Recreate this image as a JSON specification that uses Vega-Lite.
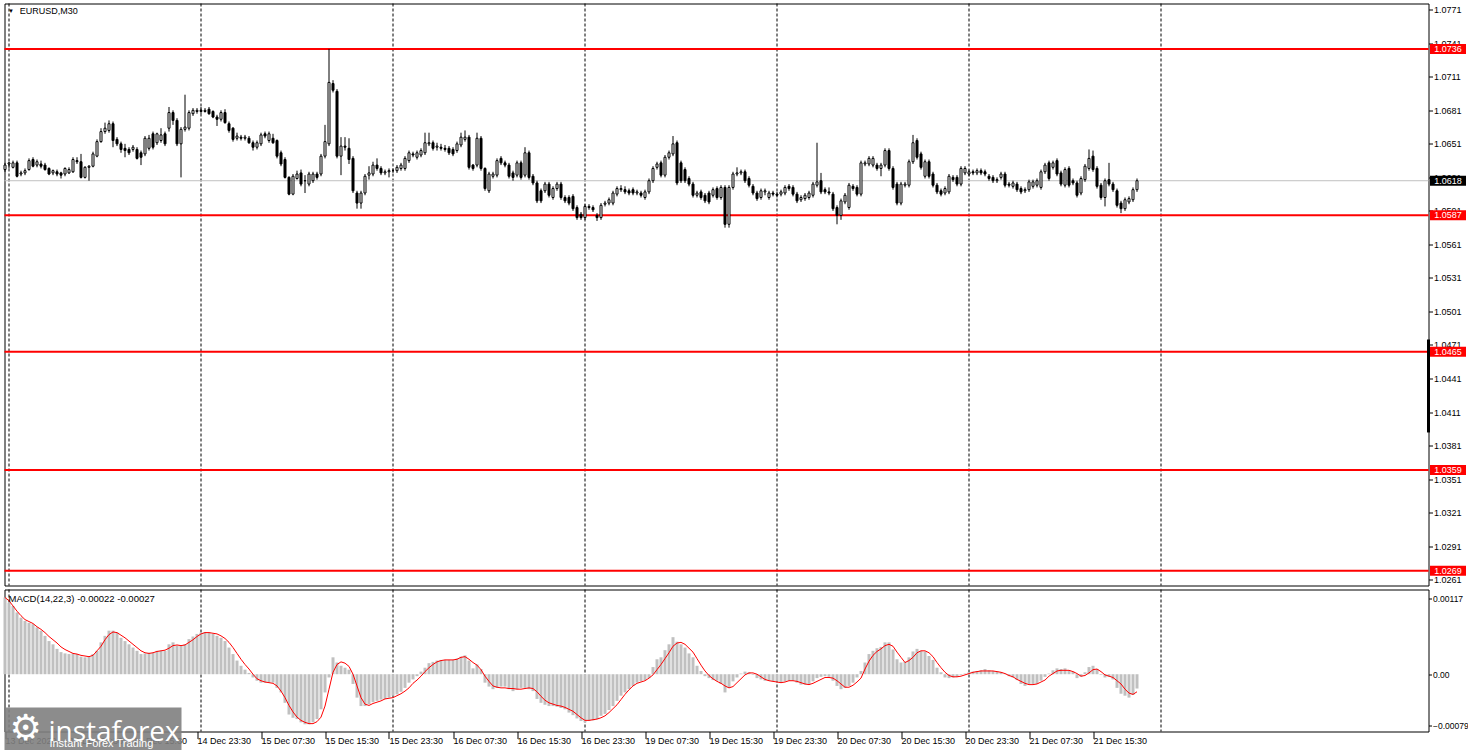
{
"$schema": "https://vega.github.io/schema/vega-lite/v6.json",
"padding": {"left": 2.5, "top": 2.5, "right": 0, "bottom": 0},
"background": "white",
"spacing": 2,
"config": {
  "view": {"stroke": "black", "strokeWidth": 1},
  "axis": {"labelFont": "Liberation Sans", "labelFontSize": 9, "labelColor": "black", "tickColor": "black", "domain": false, "grid": false, "title": null, "labelOverlap": false},
  "text": {"font": "Liberation Sans"}
},
"datasets": {
  "lv": [{"p": 1.0736}, {"p": 1.0587}, {"p": 1.0465}, {"p": 1.0359}, {"p": 1.0269}],
  "cur": [{"p": 1.0618}],
  "vl": [{"t": 1}, {"t": 49}, {"t": 97}, {"t": 145}, {"t": 193}, {"t": 241}, {"t": 289}],
  "one": [{}],
  "d": [
{"i":0,"o":1.0628,"h":1.0634,"l":1.0626,"c":1.0632,"m":0.00118,"s":0.00118},
{"i":1,"o":1.0633,"h":1.0635,"l":1.0629,"c":1.0634,"m":0.00110,"s":0.00113},
{"i":2,"o":1.0630,"h":1.0636,"l":1.0629,"c":1.0634,"m":0.00105,"s":0.00105},
{"i":3,"o":1.0634,"h":1.0636,"l":1.0621,"c":1.0622,"m":0.00095,"s":0.00097},
{"i":4,"o":1.0624,"h":1.0627,"l":1.0622,"c":1.0625,"m":0.00087,"s":0.00090},
{"i":5,"o":1.0625,"h":1.0629,"l":1.0623,"c":1.0627,"m":0.00082,"s":0.00084},
{"i":6,"o":1.0628,"h":1.0638,"l":1.0627,"c":1.0636,"m":0.00079,"s":0.00081},
{"i":7,"o":1.0637,"h":1.0639,"l":1.0630,"c":1.0631,"m":0.00077,"s":0.00078},
{"i":8,"o":1.0632,"h":1.0637,"l":1.0630,"c":1.0635,"m":0.00072,"s":0.00073},
{"i":9,"o":1.0633,"h":1.0636,"l":1.0629,"c":1.0631,"m":0.00067,"s":0.00069},
{"i":10,"o":1.0632,"h":1.0634,"l":1.0627,"c":1.0628,"m":0.00059,"s":0.00064},
{"i":11,"o":1.0629,"h":1.0630,"l":1.0623,"c":1.0624,"m":0.00051,"s":0.00058},
{"i":12,"o":1.0625,"h":1.0628,"l":1.0623,"c":1.0627,"m":0.00046,"s":0.00053},
{"i":13,"o":1.0626,"h":1.0628,"l":1.0622,"c":1.0624,"m":0.00039,"s":0.00048},
{"i":14,"o":1.0625,"h":1.0626,"l":1.0620,"c":1.0623,"m":0.00034,"s":0.00042},
{"i":15,"o":1.0624,"h":1.0630,"l":1.0622,"c":1.0629,"m":0.00032,"s":0.00038},
{"i":16,"o":1.0625,"h":1.0630,"l":1.0624,"c":1.0628,"m":0.00031,"s":0.00035},
{"i":17,"o":1.0626,"h":1.0639,"l":1.0625,"c":1.0637,"m":0.00032,"s":0.00032},
{"i":18,"o":1.0636,"h":1.0639,"l":1.0633,"c":1.0635,"m":0.00031,"s":0.00031},
{"i":19,"o":1.0635,"h":1.0642,"l":1.0620,"c":1.0621,"m":0.00027,"s":0.00029},
{"i":20,"o":1.0621,"h":1.0631,"l":1.0620,"c":1.0630,"m":0.00026,"s":0.00028},
{"i":21,"o":1.0630,"h":1.0632,"l":1.0618,"c":1.0631,"m":0.00027,"s":0.00027},
{"i":22,"o":1.0631,"h":1.0644,"l":1.0630,"c":1.0642,"m":0.00031,"s":0.00029},
{"i":23,"o":1.0640,"h":1.0655,"l":1.0639,"c":1.0653,"m":0.00036,"s":0.00036},
{"i":24,"o":1.0653,"h":1.0665,"l":1.0652,"c":1.0662,"m":0.00049,"s":0.00043},
{"i":25,"o":1.0662,"h":1.0670,"l":1.0660,"c":1.0665,"m":0.00059,"s":0.00053},
{"i":26,"o":1.0663,"h":1.0672,"l":1.0661,"c":1.0669,"m":0.00067,"s":0.00061},
{"i":27,"o":1.0669,"h":1.0671,"l":1.0648,"c":1.0654,"m":0.00067,"s":0.00065},
{"i":28,"o":1.0655,"h":1.0657,"l":1.0649,"c":1.0651,"m":0.00064,"s":0.00064},
{"i":29,"o":1.0651,"h":1.0653,"l":1.0643,"c":1.0646,"m":0.00056,"s":0.00060},
{"i":30,"o":1.0647,"h":1.0651,"l":1.0639,"c":1.0645,"m":0.00051,"s":0.00056},
{"i":31,"o":1.0646,"h":1.0648,"l":1.0641,"c":1.0643,"m":0.00046,"s":0.00051},
{"i":32,"o":1.0646,"h":1.0650,"l":1.0644,"c":1.0648,"m":0.00041,"s":0.00046},
{"i":33,"o":1.0646,"h":1.0648,"l":1.0637,"c":1.0638,"m":0.00036,"s":0.00041},
{"i":34,"o":1.0643,"h":1.0645,"l":1.0632,"c":1.0639,"m":0.00031,"s":0.00036},
{"i":35,"o":1.0642,"h":1.0658,"l":1.0640,"c":1.0656,"m":0.00032,"s":0.00033},
{"i":36,"o":1.0647,"h":1.0659,"l":1.0645,"c":1.0656,"m":0.00033,"s":0.00032},
{"i":37,"o":1.0660,"h":1.0662,"l":1.0646,"c":1.0648,"m":0.00033,"s":0.00033},
{"i":38,"o":1.0652,"h":1.0661,"l":1.0650,"c":1.0660,"m":0.00036,"s":0.00035},
{"i":39,"o":1.0654,"h":1.0665,"l":1.0652,"c":1.0659,"m":0.00036,"s":0.00036},
{"i":40,"o":1.0660,"h":1.0662,"l":1.0649,"c":1.0651,"m":0.00036,"s":0.00037},
{"i":41,"o":1.0665,"h":1.0684,"l":1.0662,"c":1.0679,"m":0.00046,"s":0.00040},
{"i":42,"o":1.0679,"h":1.0681,"l":1.0668,"c":1.0672,"m":0.00049,"s":0.00044},
{"i":43,"o":1.0672,"h":1.0674,"l":1.0649,"c":1.0651,"m":0.00044,"s":0.00045},
{"i":44,"o":1.0651,"h":1.0666,"l":1.0621,"c":1.0664,"m":0.00044,"s":0.00044},
{"i":45,"o":1.0664,"h":1.0695,"l":1.0662,"c":1.0666,"m":0.00046,"s":0.00045},
{"i":46,"o":1.0665,"h":1.0681,"l":1.0663,"c":1.0679,"m":0.00054,"s":0.00049},
{"i":47,"o":1.0678,"h":1.0683,"l":1.0676,"c":1.0681,"m":0.00058,"s":0.00053},
{"i":48,"o":1.0680,"h":1.0683,"l":1.0678,"c":1.0681,"m":0.00062,"s":0.00058},
{"i":49,"o":1.0681,"h":1.0684,"l":1.0678,"c":1.0680,"m":0.00064,"s":0.00062},
{"i":50,"o":1.0680,"h":1.0683,"l":1.0679,"c":1.0681,"m":0.00065,"s":0.00064},
{"i":51,"o":1.0682,"h":1.0684,"l":1.0677,"c":1.0678,"m":0.00064,"s":0.00064},
{"i":52,"o":1.0680,"h":1.0681,"l":1.0674,"c":1.0675,"m":0.00062,"s":0.00063},
{"i":53,"o":1.0675,"h":1.0677,"l":1.0667,"c":1.0673,"m":0.00059,"s":0.00062},
{"i":54,"o":1.0673,"h":1.0681,"l":1.0671,"c":1.0679,"m":0.00056,"s":0.00059},
{"i":55,"o":1.0679,"h":1.0682,"l":1.0669,"c":1.0670,"m":0.00051,"s":0.00055},
{"i":56,"o":1.0669,"h":1.0671,"l":1.0661,"c":1.0663,"m":0.00041,"s":0.00049},
{"i":57,"o":1.0665,"h":1.0666,"l":1.0653,"c":1.0655,"m":0.00031,"s":0.00041},
{"i":58,"o":1.0656,"h":1.0661,"l":1.0654,"c":1.0658,"m":0.00021,"s":0.00032},
{"i":59,"o":1.0657,"h":1.0659,"l":1.0654,"c":1.0656,"m":0.00013,"s":0.00023},
{"i":60,"o":1.0656,"h":1.0659,"l":1.0654,"c":1.0657,"m":0.00007,"s":0.00015},
{"i":61,"o":1.0656,"h":1.0658,"l":1.0651,"c":1.0652,"m":0.00002,"s":0.00008},
{"i":62,"o":1.0652,"h":1.0654,"l":1.0645,"c":1.0648,"m":-0.00005,"s":0},
{"i":63,"o":1.0648,"h":1.0654,"l":1.0646,"c":1.0652,"m":-0.00010,"s":-0.00007},
{"i":64,"o":1.0651,"h":1.0661,"l":1.0649,"c":1.0659,"m":-0.00013,"s":-0.00010},
{"i":65,"o":1.0660,"h":1.0662,"l":1.0656,"c":1.0658,"m":-0.00013,"s":-0.00012},
{"i":66,"o":1.0654,"h":1.0662,"l":1.0652,"c":1.0660,"m":-0.00013,"s":-0.00013},
{"i":67,"o":1.0656,"h":1.0660,"l":1.0651,"c":1.0652,"m":-0.00013,"s":-0.00014},
{"i":68,"o":1.0654,"h":1.0655,"l":1.0638,"c":1.0640,"m":-0.00021,"s":-0.00018},
{"i":69,"o":1.0643,"h":1.0645,"l":1.0631,"c":1.0633,"m":-0.00028,"s":-0.00026},
{"i":70,"o":1.0637,"h":1.0639,"l":1.0620,"c":1.0621,"m":-0.00044,"s":-0.00036},
{"i":71,"o":1.0621,"h":1.0622,"l":1.0605,"c":1.0606,"m":-0.00062,"s":-0.00048},
{"i":72,"o":1.0606,"h":1.0624,"l":1.0605,"c":1.0622,"m":-0.00067,"s":-0.00058},
{"i":73,"o":1.0620,"h":1.0627,"l":1.0619,"c":1.0624,"m":-0.00069,"s":-0.00066},
{"i":74,"o":1.0625,"h":1.0628,"l":1.0613,"c":1.0615,"m":-0.00074,"s":-0.00071},
{"i":75,"o":1.0618,"h":1.0623,"l":1.0607,"c":1.0618,"m":-0.00077,"s":-0.00074},
{"i":76,"o":1.0615,"h":1.0626,"l":1.0613,"c":1.0624,"m":-0.00077,"s":-0.00076},
{"i":77,"o":1.0618,"h":1.0626,"l":1.0616,"c":1.0624,"m":-0.00074,"s":-0.00076},
{"i":78,"o":1.0624,"h":1.0626,"l":1.0619,"c":1.0621,"m":-0.00069,"s":-0.00073},
{"i":79,"o":1.0624,"h":1.0642,"l":1.0622,"c":1.0640,"m":-0.00054,"s":-0.00066},
{"i":80,"o":1.0640,"h":1.0668,"l":1.0638,"c":1.0653,"m":-0.00028,"s":-0.00049},
{"i":81,"o":1.0651,"h":1.0736,"l":1.0649,"c":1.0706,"m":-0.00005,"s":-0.00023},
{"i":82,"o":1.0705,"h":1.0708,"l":1.0697,"c":1.0699,"m":0.00026,"s":0.00003},
{"i":83,"o":1.0698,"h":1.0700,"l":1.0638,"c":1.0640,"m":0.00018,"s":0.00015},
{"i":84,"o":1.0640,"h":1.0657,"l":1.0623,"c":1.0649,"m":0.00013,"s":0.00019},
{"i":85,"o":1.0649,"h":1.0657,"l":1.0645,"c":1.0648,"m":0.00010,"s":0.00017},
{"i":86,"o":1.0647,"h":1.0656,"l":1.0633,"c":1.0637,"m":0.00007,"s":0.00012},
{"i":87,"o":1.0638,"h":1.0640,"l":1.0607,"c":1.0609,"m":-0.00015,"s":0},
{"i":88,"o":1.0607,"h":1.0609,"l":1.0593,"c":1.0598,"m":-0.00036,"s":-0.00018},
{"i":89,"o":1.0598,"h":1.0609,"l":1.0593,"c":1.0607,"m":-0.00049,"s":-0.00036},
{"i":90,"o":1.0607,"h":1.0624,"l":1.0605,"c":1.0622,"m":-0.00049,"s":-0.00046},
{"i":91,"o":1.0623,"h":1.0631,"l":1.0619,"c":1.0625,"m":-0.00046,"s":-0.00048},
{"i":92,"o":1.0624,"h":1.0635,"l":1.0622,"c":1.0632,"m":-0.00043,"s":-0.00045},
{"i":93,"o":1.0632,"h":1.0638,"l":1.0627,"c":1.0629,"m":-0.00041,"s":-0.00043},
{"i":94,"o":1.0629,"h":1.0631,"l":1.0623,"c":1.0625,"m":-0.00039,"s":-0.00041},
{"i":95,"o":1.0625,"h":1.0628,"l":1.0623,"c":1.0626,"m":-0.00038,"s":-0.00038},
{"i":96,"o":1.0626,"h":1.0629,"l":1.0621,"c":1.0627,"m":-0.00036,"s":-0.00037},
{"i":97,"o":1.0627,"h":1.0629,"l":1.0625,"c":1.0627,"m":-0.00033,"s":-0.00036},
{"i":98,"o":1.0627,"h":1.0632,"l":1.0625,"c":1.0630,"m":-0.00031,"s":-0.00033},
{"i":99,"o":1.0629,"h":1.0634,"l":1.0627,"c":1.0632,"m":-0.00027,"s":-0.00030},
{"i":100,"o":1.0629,"h":1.0640,"l":1.0627,"c":1.0638,"m":-0.00021,"s":-0.00026},
{"i":101,"o":1.0636,"h":1.0645,"l":1.0634,"c":1.0643,"m":-0.00013,"s":-0.00021},
{"i":102,"o":1.0642,"h":1.0644,"l":1.0639,"c":1.0641,"m":-0.00008,"s":-0.00014},
{"i":103,"o":1.0639,"h":1.0645,"l":1.0637,"c":1.0643,"m":-0.00003,"s":-0.00009},
{"i":104,"o":1.0641,"h":1.0647,"l":1.0639,"c":1.0645,"m":0.00004,"s":-0.00003},
{"i":105,"o":1.0643,"h":1.0661,"l":1.0641,"c":1.0652,"m":0.00010,"s":0.00004},
{"i":106,"o":1.0651,"h":1.0661,"l":1.0649,"c":1.0652,"m":0.00017,"s":0.00010},
{"i":107,"o":1.0652,"h":1.0654,"l":1.0645,"c":1.0647,"m":0.00019,"s":0.00015},
{"i":108,"o":1.0648,"h":1.0652,"l":1.0645,"c":1.0649,"m":0.00021,"s":0.00019},
{"i":109,"o":1.0648,"h":1.0651,"l":1.0645,"c":1.0647,"m":0.00022,"s":0.00021},
{"i":110,"o":1.0647,"h":1.0650,"l":1.0644,"c":1.0646,"m":0.00022,"s":0.00022},
{"i":111,"o":1.0647,"h":1.0649,"l":1.0641,"c":1.0643,"m":0.00022,"s":0.00022},
{"i":112,"o":1.0646,"h":1.0648,"l":1.0640,"c":1.0642,"m":0.00022,"s":0.00022},
{"i":113,"o":1.0645,"h":1.0653,"l":1.0643,"c":1.0651,"m":0.00024,"s":0.00023},
{"i":114,"o":1.0650,"h":1.0661,"l":1.0648,"c":1.0657,"m":0.00027,"s":0.00026},
{"i":115,"o":1.0655,"h":1.0663,"l":1.0653,"c":1.0657,"m":0.00029,"s":0.00027},
{"i":116,"o":1.0657,"h":1.0659,"l":1.0628,"c":1.0630,"m":0.00021,"s":0.00023},
{"i":117,"o":1.0632,"h":1.0633,"l":1.0627,"c":1.0629,"m":0.00009,"s":0.00018},
{"i":118,"o":1.0632,"h":1.0661,"l":1.0630,"c":1.0656,"m":0.00015,"s":0.00014},
{"i":119,"o":1.0656,"h":1.0658,"l":1.0627,"c":1.0629,"m":0.00008,"s":0.00007},
{"i":120,"o":1.0629,"h":1.0630,"l":1.0609,"c":1.0611,"m":-0.00013,"s":-0.00003},
{"i":121,"o":1.0609,"h":1.0626,"l":1.0607,"c":1.0624,"m":-0.00019,"s":-0.00011},
{"i":122,"o":1.0622,"h":1.0626,"l":1.0620,"c":1.0624,"m":-0.00023,"s":-0.00018},
{"i":123,"o":1.0623,"h":1.0638,"l":1.0621,"c":1.0636,"m":-0.00021,"s":-0.00020},
{"i":124,"o":1.0638,"h":1.0640,"l":1.0632,"c":1.0634,"m":-0.00019,"s":-0.00021},
{"i":125,"o":1.0634,"h":1.0636,"l":1.0630,"c":1.0632,"m":-0.00019,"s":-0.00021},
{"i":126,"o":1.0632,"h":1.0634,"l":1.0620,"c":1.0622,"m":-0.00023,"s":-0.00022},
{"i":127,"o":1.0625,"h":1.0627,"l":1.0618,"c":1.0621,"m":-0.00026,"s":-0.00022},
{"i":128,"o":1.0623,"h":1.0636,"l":1.0621,"c":1.0634,"m":-0.00023,"s":-0.00023},
{"i":129,"o":1.0634,"h":1.0636,"l":1.0619,"c":1.0621,"m":-0.00021,"s":-0.00023},
{"i":130,"o":1.0623,"h":1.0648,"l":1.0621,"c":1.0643,"m":-0.00021,"s":-0.00022},
{"i":131,"o":1.0643,"h":1.0645,"l":1.0619,"c":1.0621,"m":-0.00023,"s":-0.00021},
{"i":132,"o":1.0622,"h":1.0624,"l":1.0614,"c":1.0616,"m":-0.00026,"s":-0.00022},
{"i":133,"o":1.0616,"h":1.0618,"l":1.0598,"c":1.0600,"m":-0.00038,"s":-0.00027},
{"i":134,"o":1.0609,"h":1.0611,"l":1.0598,"c":1.0600,"m":-0.00044,"s":-0.00034},
{"i":135,"o":1.0609,"h":1.0617,"l":1.0607,"c":1.0615,"m":-0.00047,"s":-0.00040},
{"i":136,"o":1.0615,"h":1.0617,"l":1.0603,"c":1.0605,"m":-0.00049,"s":-0.00044},
{"i":137,"o":1.0603,"h":1.0613,"l":1.0601,"c":1.0611,"m":-0.00049,"s":-0.00046},
{"i":138,"o":1.0611,"h":1.0617,"l":1.0609,"c":1.0615,"m":-0.00050,"s":-0.00048},
{"i":139,"o":1.0615,"h":1.0617,"l":1.0601,"c":1.0603,"m":-0.00052,"s":-0.00049},
{"i":140,"o":1.0603,"h":1.0605,"l":1.0598,"c":1.0600,"m":-0.00054,"s":-0.00051},
{"i":141,"o":1.0603,"h":1.0605,"l":1.0596,"c":1.0598,"m":-0.00059,"s":-0.00054},
{"i":142,"o":1.0604,"h":1.0606,"l":1.0591,"c":1.0593,"m":-0.00063,"s":-0.00057},
{"i":143,"o":1.0594,"h":1.0596,"l":1.0583,"c":1.0585,"m":-0.00068,"s":-0.00062},
{"i":144,"o":1.0588,"h":1.0590,"l":1.0583,"c":1.0585,"m":-0.00072,"s":-0.00067},
{"i":145,"o":1.0585,"h":1.0597,"l":1.0583,"c":1.0595,"m":-0.00074,"s":-0.00071},
{"i":146,"o":1.0594,"h":1.0597,"l":1.0592,"c":1.0595,"m":-0.00072,"s":-0.00071},
{"i":147,"o":1.0594,"h":1.0596,"l":1.0590,"c":1.0592,"m":-0.00071,"s":-0.00070},
{"i":148,"o":1.0587,"h":1.0589,"l":1.0582,"c":1.0585,"m":-0.00069,"s":-0.00069},
{"i":149,"o":1.0585,"h":1.0598,"l":1.0583,"c":1.0596,"m":-0.00064,"s":-0.00067},
{"i":150,"o":1.0597,"h":1.0600,"l":1.0595,"c":1.0598,"m":-0.00061,"s":-0.00064},
{"i":151,"o":1.0598,"h":1.0603,"l":1.0596,"c":1.0601,"m":-0.00055,"s":-0.00059},
{"i":152,"o":1.0598,"h":1.0609,"l":1.0596,"c":1.0607,"m":-0.00049,"s":-0.00053},
{"i":153,"o":1.0606,"h":1.0613,"l":1.0604,"c":1.0611,"m":-0.00041,"s":-0.00047},
{"i":154,"o":1.0610,"h":1.0614,"l":1.0608,"c":1.0611,"m":-0.00033,"s":-0.00039},
{"i":155,"o":1.0610,"h":1.0613,"l":1.0606,"c":1.0608,"m":-0.00028,"s":-0.00031},
{"i":156,"o":1.0609,"h":1.0611,"l":1.0605,"c":1.0607,"m":-0.00023,"s":-0.00024},
{"i":157,"o":1.0610,"h":1.0612,"l":1.0605,"c":1.0607,"m":-0.00018,"s":-0.00018},
{"i":158,"o":1.0607,"h":1.0610,"l":1.0605,"c":1.0608,"m":-0.00013,"s":-0.00014},
{"i":159,"o":1.0607,"h":1.0609,"l":1.0603,"c":1.0605,"m":-0.00011,"s":-0.00012},
{"i":160,"o":1.0603,"h":1.0610,"l":1.0601,"c":1.0608,"m":-0.00009,"s":-0.00010},
{"i":161,"o":1.0608,"h":1.0620,"l":1.0606,"c":1.0618,"m":-0.00006,"s":-0.00006},
{"i":162,"o":1.0618,"h":1.0631,"l":1.0616,"c":1.0629,"m":0.00011,"s":-0.00001},
{"i":163,"o":1.0630,"h":1.0635,"l":1.0628,"c":1.0633,"m":0.00023,"s":0.00007},
{"i":164,"o":1.0634,"h":1.0636,"l":1.0621,"c":1.0623,"m":0.00026,"s":0.00015},
{"i":165,"o":1.0623,"h":1.0641,"l":1.0621,"c":1.0639,"m":0.00037,"s":0.00024},
{"i":166,"o":1.0639,"h":1.0645,"l":1.0637,"c":1.0643,"m":0.00046,"s":0.00033},
{"i":167,"o":1.0642,"h":1.0658,"l":1.0640,"c":1.0651,"m":0.00057,"s":0.00043},
{"i":168,"o":1.0652,"h":1.0654,"l":1.0614,"c":1.0616,"m":0.00050,"s":0.00048},
{"i":169,"o":1.0634,"h":1.0636,"l":1.0616,"c":1.0618,"m":0.00046,"s":0.00049},
{"i":170,"o":1.0628,"h":1.0630,"l":1.0616,"c":1.0618,"m":0.00041,"s":0.00046},
{"i":171,"o":1.0620,"h":1.0622,"l":1.0613,"c":1.0615,"m":0.00032,"s":0.00040},
{"i":172,"o":1.0615,"h":1.0617,"l":1.0603,"c":1.0605,"m":0.00026,"s":0.00034},
{"i":173,"o":1.0605,"h":1.0609,"l":1.0603,"c":1.0607,"m":0.00013,"s":0.00024},
{"i":174,"o":1.0608,"h":1.0610,"l":1.0601,"c":1.0603,"m":0.00005,"s":0.00014},
{"i":175,"o":1.0605,"h":1.0607,"l":1.0598,"c":1.0600,"m":-0.00003,"s":0.00005},
{"i":176,"o":1.0607,"h":1.0609,"l":1.0597,"c":1.0599,"m":-0.00006,"s":-0.00002},
{"i":177,"o":1.0605,"h":1.0612,"l":1.0603,"c":1.0610,"m":-0.00009,"s":-0.00007},
{"i":178,"o":1.0611,"h":1.0613,"l":1.0601,"c":1.0603,"m":-0.00010,"s":-0.00011},
{"i":179,"o":1.0603,"h":1.0614,"l":1.0601,"c":1.0612,"m":-0.00015,"s":-0.00014},
{"i":180,"o":1.0612,"h":1.0614,"l":1.0576,"c":1.0579,"m":-0.00028,"s":-0.00018},
{"i":181,"o":1.0579,"h":1.0614,"l":1.0576,"c":1.0612,"m":-0.00021,"s":-0.00021},
{"i":182,"o":1.0612,"h":1.0626,"l":1.0610,"c":1.0624,"m":-0.00011,"s":-0.00019},
{"i":183,"o":1.0624,"h":1.0630,"l":1.0622,"c":1.0625,"m":-0.00005,"s":-0.00013},
{"i":184,"o":1.0625,"h":1.0628,"l":1.0623,"c":1.0626,"m":0.00001,"s":-0.00007},
{"i":185,"o":1.0626,"h":1.0628,"l":1.0616,"c":1.0618,"m":0.00004,"s":-0.00001},
{"i":186,"o":1.0620,"h":1.0622,"l":1.0612,"c":1.0614,"m":0.00003,"s":0.00002},
{"i":187,"o":1.0613,"h":1.0615,"l":1.0605,"c":1.0607,"m":-0.00001,"s":0.00002},
{"i":188,"o":1.0607,"h":1.0609,"l":1.0600,"c":1.0602,"m":-0.00006,"s":0},
{"i":189,"o":1.0603,"h":1.0611,"l":1.0601,"c":1.0609,"m":-0.00008,"s":-0.00004},
{"i":190,"o":1.0608,"h":1.0611,"l":1.0605,"c":1.0609,"m":-0.00010,"s":-0.00008},
{"i":191,"o":1.0603,"h":1.0609,"l":1.0601,"c":1.0607,"m":-0.00010,"s":-0.00010},
{"i":192,"o":1.0607,"h":1.0609,"l":1.0604,"c":1.0606,"m":-0.00011,"s":-0.00011},
{"i":193,"o":1.0606,"h":1.0608,"l":1.0603,"c":1.0605,"m":-0.00011,"s":-0.00012},
{"i":194,"o":1.0606,"h":1.0610,"l":1.0604,"c":1.0608,"m":-0.00013,"s":-0.00013},
{"i":195,"o":1.0607,"h":1.0614,"l":1.0605,"c":1.0612,"m":-0.00011,"s":-0.00012},
{"i":196,"o":1.0613,"h":1.0615,"l":1.0609,"c":1.0611,"m":-0.00010,"s":-0.00010},
{"i":197,"o":1.0612,"h":1.0614,"l":1.0604,"c":1.0606,"m":-0.00010,"s":-0.00010},
{"i":198,"o":1.0606,"h":1.0608,"l":1.0598,"c":1.0600,"m":-0.00013,"s":-0.00011},
{"i":199,"o":1.0601,"h":1.0605,"l":1.0599,"c":1.0603,"m":-0.00016,"s":-0.00013},
{"i":200,"o":1.0602,"h":1.0607,"l":1.0600,"c":1.0605,"m":-0.00016,"s":-0.00015},
{"i":201,"o":1.0603,"h":1.0609,"l":1.0601,"c":1.0607,"m":-0.00015,"s":-0.00016},
{"i":202,"o":1.0605,"h":1.0617,"l":1.0603,"c":1.0615,"m":-0.00011,"s":-0.00014},
{"i":203,"o":1.0614,"h":1.0652,"l":1.0612,"c":1.0617,"m":-0.00006,"s":-0.00011},
{"i":204,"o":1.0618,"h":1.0625,"l":1.0606,"c":1.0608,"m":-0.00004,"s":-0.00008},
{"i":205,"o":1.0610,"h":1.0612,"l":1.0606,"c":1.0608,"m":-0.00003,"s":-0.00005},
{"i":206,"o":1.0608,"h":1.0612,"l":1.0605,"c":1.0607,"m":-0.00004,"s":-0.00005},
{"i":207,"o":1.0606,"h":1.0608,"l":1.0591,"c":1.0593,"m":-0.00010,"s":-0.00006},
{"i":208,"o":1.0594,"h":1.0596,"l":1.0579,"c":1.0587,"m":-0.00018,"s":-0.00010},
{"i":209,"o":1.0587,"h":1.0602,"l":1.0583,"c":1.0600,"m":-0.00023,"s":-0.00015},
{"i":210,"o":1.0599,"h":1.0607,"l":1.0597,"c":1.0605,"m":-0.00021,"s":-0.00020},
{"i":211,"o":1.0594,"h":1.0616,"l":1.0592,"c":1.0614,"m":-0.00018,"s":-0.00020},
{"i":212,"o":1.0613,"h":1.0615,"l":1.0609,"c":1.0611,"m":-0.00013,"s":-0.00017},
{"i":213,"o":1.0612,"h":1.0614,"l":1.0604,"c":1.0606,"m":-0.00005,"s":-0.00012},
{"i":214,"o":1.0606,"h":1.0636,"l":1.0604,"c":1.0634,"m":0.00005,"s":-0.00006},
{"i":215,"o":1.0633,"h":1.0636,"l":1.0631,"c":1.0634,"m":0.00018,"s":0.00008},
{"i":216,"o":1.0633,"h":1.0640,"l":1.0631,"c":1.0638,"m":0.00031,"s":0.00020},
{"i":217,"o":1.0632,"h":1.0640,"l":1.0630,"c":1.0638,"m":0.00036,"s":0.00029},
{"i":218,"o":1.0632,"h":1.0634,"l":1.0627,"c":1.0629,"m":0.00040,"s":0.00035},
{"i":219,"o":1.0629,"h":1.0634,"l":1.0622,"c":1.0632,"m":0.00042,"s":0.00039},
{"i":220,"o":1.0632,"h":1.0647,"l":1.0630,"c":1.0645,"m":0.00049,"s":0.00044},
{"i":221,"o":1.0645,"h":1.0647,"l":1.0627,"c":1.0629,"m":0.00049,"s":0.00046},
{"i":222,"o":1.0629,"h":1.0631,"l":1.0610,"c":1.0612,"m":0.00038,"s":0.00043},
{"i":223,"o":1.0615,"h":1.0617,"l":1.0596,"c":1.0598,"m":0.00023,"s":0.00034},
{"i":224,"o":1.0598,"h":1.0617,"l":1.0596,"c":1.0615,"m":0.00018,"s":0.00026},
{"i":225,"o":1.0614,"h":1.0617,"l":1.0612,"c":1.0615,"m":0.00019,"s":0.00018},
{"i":226,"o":1.0614,"h":1.0637,"l":1.0612,"c":1.0635,"m":0.00026,"s":0.00021},
{"i":227,"o":1.0635,"h":1.0659,"l":1.0633,"c":1.0652,"m":0.00035,"s":0.00026},
{"i":228,"o":1.0654,"h":1.0656,"l":1.0637,"c":1.0639,"m":0.00039,"s":0.00033},
{"i":229,"o":1.0642,"h":1.0644,"l":1.0628,"c":1.0630,"m":0.00036,"s":0.00036},
{"i":230,"o":1.0622,"h":1.0637,"l":1.0620,"c":1.0635,"m":0.00035,"s":0.00036},
{"i":231,"o":1.0635,"h":1.0637,"l":1.0620,"c":1.0622,"m":0.00028,"s":0.00033},
{"i":232,"o":1.0624,"h":1.0626,"l":1.0612,"c":1.0614,"m":0.00022,"s":0.00027},
{"i":233,"o":1.0614,"h":1.0616,"l":1.0606,"c":1.0608,"m":0.00010,"s":0.00018},
{"i":234,"o":1.0609,"h":1.0611,"l":1.0604,"c":1.0606,"m":0.00003,"s":0.00010},
{"i":235,"o":1.0607,"h":1.0613,"l":1.0605,"c":1.0611,"m":-0.00005,"s":0.00003},
{"i":236,"o":1.0608,"h":1.0624,"l":1.0606,"c":1.0622,"m":-0.00006,"s":-0.00002},
{"i":237,"o":1.0621,"h":1.0623,"l":1.0617,"c":1.0619,"m":-0.00005,"s":-0.00004},
{"i":238,"o":1.0621,"h":1.0623,"l":1.0613,"c":1.0615,"m":-0.00004,"s":-0.00004},
{"i":239,"o":1.0615,"h":1.0631,"l":1.0613,"c":1.0629,"m":-0.00001,"s":-0.00003},
{"i":240,"o":1.0625,"h":1.0631,"l":1.0623,"c":1.0629,"m":0.00001,"s":-0.00001},
{"i":241,"o":1.0624,"h":1.0628,"l":1.0622,"c":1.0626,"m":0.00003,"s":0.00001},
{"i":242,"o":1.0626,"h":1.0628,"l":1.0623,"c":1.0625,"m":0.00004,"s":0.00003},
{"i":243,"o":1.0625,"h":1.0629,"l":1.0623,"c":1.0627,"m":0.00005,"s":0.00004},
{"i":244,"o":1.0627,"h":1.0629,"l":1.0623,"c":1.0625,"m":0.00006,"s":0.00005},
{"i":245,"o":1.0626,"h":1.0628,"l":1.0622,"c":1.0624,"m":0.00008,"s":0.00005},
{"i":246,"o":1.0622,"h":1.0624,"l":1.0618,"c":1.0620,"m":0.00006,"s":0.00005},
{"i":247,"o":1.0621,"h":1.0623,"l":1.0616,"c":1.0618,"m":0.00005,"s":0.00005},
{"i":248,"o":1.0618,"h":1.0621,"l":1.0616,"c":1.0619,"m":0.00004,"s":0.00004},
{"i":249,"o":1.0621,"h":1.0626,"l":1.0619,"c":1.0624,"m":0.00003,"s":0.00003},
{"i":250,"o":1.0624,"h":1.0626,"l":1.0612,"c":1.0614,"m":0.00001,"s":0.00001},
{"i":251,"o":1.0615,"h":1.0617,"l":1.0612,"c":1.0614,"m":-0.00003,"s":-0.00002},
{"i":252,"o":1.0613,"h":1.0618,"l":1.0611,"c":1.0616,"m":-0.00005,"s":-0.00004},
{"i":253,"o":1.0615,"h":1.0617,"l":1.0608,"c":1.0610,"m":-0.00009,"s":-0.00008},
{"i":254,"o":1.0611,"h":1.0613,"l":1.0606,"c":1.0608,"m":-0.00015,"s":-0.00011},
{"i":255,"o":1.0609,"h":1.0612,"l":1.0607,"c":1.0610,"m":-0.00018,"s":-0.00014},
{"i":256,"o":1.0610,"h":1.0619,"l":1.0608,"c":1.0617,"m":-0.00015,"s":-0.00016},
{"i":257,"o":1.0613,"h":1.0619,"l":1.0611,"c":1.0617,"m":-0.00015,"s":-0.00016},
{"i":258,"o":1.0614,"h":1.0620,"l":1.0612,"c":1.0618,"m":-0.00015,"s":-0.00015},
{"i":259,"o":1.0612,"h":1.0628,"l":1.0610,"c":1.0626,"m":-0.00010,"s":-0.00012},
{"i":260,"o":1.0626,"h":1.0634,"l":1.0624,"c":1.0632,"m":-0.00004,"s":-0.00009},
{"i":261,"o":1.0634,"h":1.0636,"l":1.0618,"c":1.0620,"m":0.00001,"s":-0.00003},
{"i":262,"o":1.0630,"h":1.0636,"l":1.0628,"c":1.0634,"m":0.00006,"s":0.00001},
{"i":263,"o":1.0636,"h":1.0638,"l":1.0622,"c":1.0624,"m":0.00009,"s":0.00005},
{"i":264,"o":1.0625,"h":1.0627,"l":1.0613,"c":1.0615,"m":0.00008,"s":0.00006},
{"i":265,"o":1.0614,"h":1.0630,"l":1.0612,"c":1.0628,"m":0.00009,"s":0.00006},
{"i":266,"o":1.0629,"h":1.0631,"l":1.0612,"c":1.0614,"m":0.00006,"s":0.00006},
{"i":267,"o":1.0618,"h":1.0620,"l":1.0614,"c":1.0616,"m":0.00004,"s":0.00004},
{"i":268,"o":1.0616,"h":1.0618,"l":1.0603,"c":1.0605,"m":-0.00006,"s":0.00001},
{"i":269,"o":1.0607,"h":1.0622,"l":1.0605,"c":1.0620,"m":-0.00004,"s":-0.00003},
{"i":270,"o":1.0619,"h":1.0633,"l":1.0617,"c":1.0631,"m":0.00003,"s":-0.00002},
{"i":271,"o":1.0629,"h":1.0646,"l":1.0627,"c":1.0638,"m":0.00011,"s":0.00002},
{"i":272,"o":1.0640,"h":1.0645,"l":1.0626,"c":1.0628,"m":0.00013,"s":0.00007},
{"i":273,"o":1.0629,"h":1.0631,"l":1.0611,"c":1.0613,"m":0.00008,"s":0.00008},
{"i":274,"o":1.0614,"h":1.0616,"l":1.0601,"c":1.0603,"m":-0.00001,"s":0.00004},
{"i":275,"o":1.0603,"h":1.0620,"l":1.0595,"c":1.0618,"m":-0.00005,"s":-0.00001},
{"i":276,"o":1.0619,"h":1.0634,"l":1.0613,"c":1.0615,"m":-0.00004,"s":-0.00003},
{"i":277,"o":1.0615,"h":1.0617,"l":1.0608,"c":1.0610,"m":-0.00008,"s":-0.00005},
{"i":278,"o":1.0609,"h":1.0611,"l":1.0594,"c":1.0596,"m":-0.00021,"s":-0.00010},
{"i":279,"o":1.0598,"h":1.0600,"l":1.0589,"c":1.0593,"m":-0.00030,"s":-0.00015},
{"i":280,"o":1.0593,"h":1.0603,"l":1.0591,"c":1.0601,"m":-0.00033,"s":-0.00023},
{"i":281,"o":1.0599,"h":1.0604,"l":1.0597,"c":1.0602,"m":-0.00036,"s":-0.00029},
{"i":282,"o":1.0601,"h":1.0612,"l":1.0599,"c":1.0610,"m":-0.00032,"s":-0.00031},
{"i":283,"o":1.0610,"h":1.0620,"l":1.0608,"c":1.0618,"m":-0.00022,"s":-0.00027}
  ]
},
"vconcat": [
  {
    "width": 1424,
    "height": 582,
    "encoding": {
      "y": {"type": "quantitative", "title": null,
        "scale": {"domain": [1.025573, 1.077662], "nice": false, "zero": false, "padding": 0},
        "axis": {"orient": "right", "values": [1.0261, 1.0291, 1.0321, 1.0351, 1.0381, 1.0411, 1.0441, 1.0471, 1.0501, 1.0531, 1.0561, 1.0591, 1.0621, 1.0651, 1.0681, 1.0711, 1.0741, 1.0771], "format": ".4f", "tickSize": 4, "labelPadding": 1, "labelOverlap": false, "labelBound": false, "labelFlush": false, "labelSeparation": 0, "title": null}}
    },
    "layer": [
      {"data": {"name": "vl"}, "mark": {"type": "rule", "color": "black", "strokeDash": [3, 2], "strokeWidth": 1},
       "encoding": {"y": null, "x": {"field": "t", "type": "quantitative", "scale": {"domain": [-0.125, 355.875], "nice": false, "zero": false, "padding": 0}, "axis": null}}},
      {"data": {"name": "cur"}, "mark": {"type": "rule", "color": "#c0c0c0", "strokeWidth": 1},
       "encoding": {"y": {"field": "p", "type": "quantitative"}}},
      {"data": {"name": "lv"}, "mark": {"type": "rule", "color": "#ff0000", "strokeWidth": 2},
       "encoding": {"y": {"field": "p", "type": "quantitative"}}},
      {"data": {"name": "d"}, "mark": {"type": "rule", "color": "black", "strokeWidth": 1},
       "encoding": {"x": {"field": "i", "type": "quantitative", "axis": null}, "y": {"field": "l", "type": "quantitative"}, "y2": {"field": "h"}}},
      {"data": {"name": "d"}, "mark": {"type": "bar", "width": 2, "stroke": "black", "strokeWidth": 1},
       "encoding": {"x": {"field": "i", "type": "quantitative", "axis": null}, "y": {"field": "o", "type": "quantitative"}, "y2": {"field": "c"},
         "fill": {"condition": {"test": "datum.c >= datum.o", "value": "white"}, "value": "black"}}},
      {"data": {"name": "lv"}, "mark": {"type": "bar", "orient": "horizontal", "height": 10, "color": "#ff0000"},
       "encoding": {"x": {"datum": 356.25, "type": "quantitative", "axis": null}, "x2": {"datum": 365.25}, "y": {"field": "p", "type": "quantitative"}}},
      {"data": {"name": "lv"}, "mark": {"type": "text", "color": "white", "fontSize": 9, "align": "center", "baseline": "middle"},
       "encoding": {"x": {"datum": 360.75, "type": "quantitative", "axis": null}, "y": {"field": "p", "type": "quantitative"}, "text": {"field": "p", "type": "quantitative", "format": ".4f"}}},
      {"data": {"name": "cur"}, "mark": {"type": "bar", "orient": "horizontal", "height": 10, "color": "black"},
       "encoding": {"x": {"datum": 356.25, "type": "quantitative", "axis": null}, "x2": {"datum": 365.25}, "y": {"field": "p", "type": "quantitative"}}},
      {"data": {"name": "cur"}, "mark": {"type": "text", "color": "white", "fontSize": 9, "align": "center", "baseline": "middle"},
       "encoding": {"x": {"datum": 360.75, "type": "quantitative", "axis": null}, "y": {"field": "p", "type": "quantitative"}, "text": {"field": "p", "type": "quantitative", "format": ".4f"}}},
      {"data": {"name": "one"}, "mark": {"type": "rule", "color": "black", "strokeWidth": 3},
       "encoding": {"x": {"datum": 355.875, "type": "quantitative", "axis": null}, "y": {"datum": 1.04759, "type": "quantitative"}, "y2": {"datum": 1.03927}}},
      {"data": {"name": "one"}, "mark": {"type": "text", "text": "▼", "fontSize": 6, "align": "center", "baseline": "middle", "color": "black"},
       "encoding": {"x": {"datum": 1.5, "type": "quantitative", "axis": null}, "y": {"datum": 1.07699, "type": "quantitative"}}},
      {"data": {"name": "one"}, "mark": {"type": "text", "text": "EURUSD,M30", "fontSize": 9, "align": "left", "baseline": "middle", "color": "black"},
       "encoding": {"x": {"datum": 3.7, "type": "quantitative", "axis": null}, "y": {"datum": 1.07699, "type": "quantitative"}}}
    ]
  },
  {
    "width": 1424,
    "height": 142,
    "layer": [
      {"data": {"name": "vl"}, "mark": {"type": "rule", "color": "black", "strokeDash": [3, 2], "strokeWidth": 1},
       "encoding": {"x": {"field": "t", "type": "quantitative", "title": null,
         "scale": {"domain": [-0.125, 355.875], "nice": false, "zero": false, "padding": 0},
         "axis": {"orient": "bottom", "values": [0, 16, 32, 48, 64, 80, 96, 112, 128, 144, 160, 176, 192, 208, 224, 240, 256, 272],
           "labelExpr": "['13 Dec 2022','14 Dec 07:30','14 Dec 15:30','14 Dec 23:30','15 Dec 07:30','15 Dec 15:30','15 Dec 23:30','16 Dec 07:30','16 Dec 15:30','16 Dec 23:30','19 Dec 07:30','19 Dec 15:30','19 Dec 23:30','20 Dec 07:30','20 Dec 15:30','20 Dec 23:30','21 Dec 07:30','21 Dec 15:30'][round(datum.value/16)]",
           "tickSize": 7, "labelAlign": "left", "labelBaseline": "middle", "labelPadding": 2, "labelDx": 3, "labelFlush": false, "labelOverlap": false, "labelBound": false, "title": null}}}},
      {"data": {"name": "d"}, "mark": {"type": "bar", "width": 3, "color": "#c0c0c0"},
       "encoding": {"x": {"field": "i", "type": "quantitative", "title": null},
         "y": {"field": "m", "type": "quantitative", "title": null,
           "scale": {"domain": [-0.000881, 0.001303], "nice": false, "zero": false, "padding": 0},
           "axis": {"orient": "right", "values": [0.00117, 0, -0.00079], "labelExpr": "datum.value == 0 ? '0.00' : format(datum.value, '.5f')", "tickSize": 3, "labelPadding": 1, "labelFontSize": 8.5, "labelOverlap": false, "labelFlush": false, "title": null}},
         "y2": {"datum": 0}}},
      {"data": {"name": "d"}, "mark": {"type": "line", "color": "#ff0000", "strokeWidth": 1},
       "encoding": {"x": {"field": "i", "type": "quantitative", "title": null}, "y": {"field": "s", "type": "quantitative", "title": null}}},
      {"data": {"name": "one"}, "mark": {"type": "text", "text": "MACD(14,22,3) -0.00022 -0.00027", "fontSize": 9.5, "align": "left", "baseline": "middle", "color": "black"},
       "encoding": {"x": {"datum": 0.875, "type": "quantitative"}, "y": {"datum": 0.001157, "type": "quantitative"}}},
      {"data": {"name": "one"}, "mark": {"type": "rect", "color": "#808080", "opacity": 0.9},
       "encoding": {"x": {"datum": -0.125, "type": "quantitative"}, "x2": {"datum": 44.125}, "y": {"datum": -0.000512, "type": "quantitative"}, "y2": {"datum": -0.00118}}},
      {"data": {"name": "one"}, "mark": {"type": "text", "text": "⚙", "font": "DejaVu Sans", "fontSize": 36, "align": "left", "baseline": "middle", "color": "white"},
       "encoding": {"x": {"datum": 1.125, "type": "quantitative"}, "y": {"datum": -0.000835, "type": "quantitative"}}},
      {"data": {"name": "one"}, "mark": {"type": "text", "text": "instaforex", "font": "Open Sans", "fontSize": 28, "align": "left", "baseline": "alphabetic", "color": "white"},
       "encoding": {"x": {"datum": 10.875, "type": "quantitative"}, "y": {"datum": -0.00102, "type": "quantitative"}}},
      {"data": {"name": "one"}, "mark": {"type": "text", "text": "Instant Forex Trading", "fontSize": 11, "align": "left", "baseline": "alphabetic", "color": "white"},
       "encoding": {"x": {"datum": 11.1, "type": "quantitative"}, "y": {"datum": -0.001127, "type": "quantitative"}}}
    ]
  }
]
}
